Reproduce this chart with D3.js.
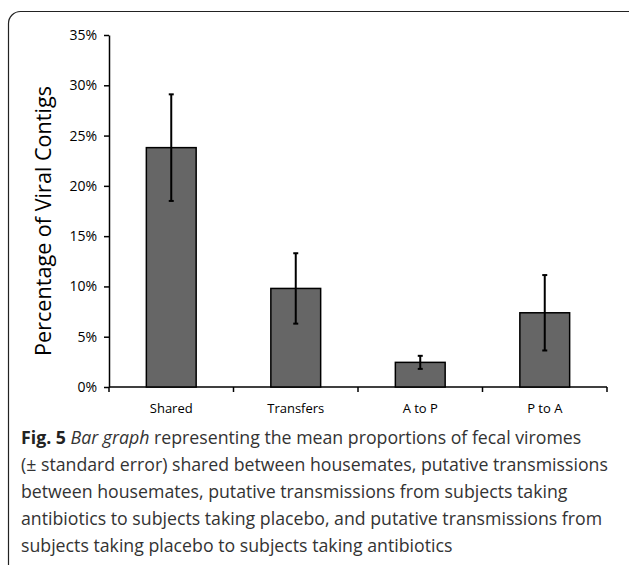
<!DOCTYPE html>
<html><head><meta charset="utf-8">
<script src="https://cdn.jsdelivr.net/npm/d3@7"></script>
<style>body{margin:0;background:#fff}svg{display:block}</style>
</head><body>
<svg id="c" width="629" height="565"></svg>
<script>
const categories = ["Shared", "Transfers", "A to P", "P to A"];
const means = [0.238, 0.098, 0.0245, 0.0738];
const errors = [0.053, 0.035, 0.0065, 0.0375];
const yTicks = [0, 0.05, 0.10, 0.15, 0.20, 0.25, 0.30, 0.35];
const yLabel = "Percentage of Viral Contigs";
const captionLines = [
  [["b","Fig. 5"],["n"," "],["i","Bar graph"],["n"," representing the mean proportions of fecal viromes"]],
  [["n","(± standard error) shared between housemates, putative transmissions"]],
  [["n","between housemates, putative transmissions from subjects taking"]],
  [["n","antibiotics to subjects taking placebo, and putative transmissions from"]],
  [["n","subjects taking placebo to subjects taking antibiotics"]]
];

const svg = d3.select("#c");
// frame
svg.append("rect").attr("x", 8.5).attr("y", 11.5).attr("width", 632).attr("height", 566)
  .attr("rx", 12).attr("fill", "none").attr("stroke", "#222").attr("stroke-width", 1.2);

const x = d3.scaleBand().domain(categories).range([109, 607]).paddingInner(0.6).paddingOuter(0.3);
const y = d3.scaleLinear().domain([0, 0.35]).range([387, 35]);

const font = "'Open Sans', 'DejaVu Sans', sans-serif";

// y axis
const ya = svg.append("g").attr("transform", "translate(109,0)")
  .call(d3.axisLeft(y).tickValues(yTicks).tickFormat(d3.format(".0%")).tickSize(5).tickSizeOuter(0));
ya.select(".domain").attr("stroke", "#000").attr("stroke-width", 1.5);
ya.selectAll(".tick line").attr("stroke", "#000").attr("stroke-width", 1.5);
ya.selectAll(".tick text").attr("font-family", font).attr("font-size", 14).attr("fill", "#000").attr("x", -12);

// x axis with boundary ticks
const xa = svg.append("g").attr("transform", "translate(0,387)");
xa.append("line").attr("x1", 109).attr("x2", 607).attr("stroke", "#000").attr("stroke-width", 1.5);
const step = x.step();
const bounds = categories.map((c, i) => 109 + i * step).concat([607]);
xa.selectAll("line.tk").data(bounds).join("line").attr("class", "tk")
  .attr("x1", d => d).attr("x2", d => d).attr("y1", 0).attr("y2", 5)
  .attr("stroke", "#000").attr("stroke-width", 1.5);
const catCenter = (c, i) => 109 + (i + 0.5) * step;
xa.selectAll("text").data(categories).join("text")
  .attr("x", catCenter).attr("y", 26).attr("text-anchor", "middle")
  .attr("font-family", font).attr("font-size", 13).attr("fill", "#000").text(d => d);

// bars
svg.selectAll("rect.bar").data(categories).join("rect").attr("class", "bar")
  .attr("x", (c, i) => catCenter(c, i) - x.bandwidth() / 2)
  .attr("width", x.bandwidth())
  .attr("y", (c, i) => y(means[i]))
  .attr("height", (c, i) => y(0) - y(means[i]))
  .attr("fill", "#666666").attr("stroke", "#000").attr("stroke-width", 1.5);

// error bars
const eb = svg.selectAll("g.err").data(categories).join("g").attr("class", "err");
eb.append("line")
  .attr("x1", (c, i) => catCenter(c, i)).attr("x2", (c, i) => catCenter(c, i))
  .attr("y1", (c, i) => y(means[i] + errors[i])).attr("y2", (c, i) => y(means[i] - errors[i]))
  .attr("stroke", "#000").attr("stroke-width", 2);
eb.append("line")
  .attr("x1", (c, i) => catCenter(c, i) - 2.5).attr("x2", (c, i) => catCenter(c, i) + 2.5)
  .attr("y1", (c, i) => y(means[i] + errors[i])).attr("y2", (c, i) => y(means[i] + errors[i]))
  .attr("stroke", "#000").attr("stroke-width", 2);
eb.append("line")
  .attr("x1", (c, i) => catCenter(c, i) - 2.5).attr("x2", (c, i) => catCenter(c, i) + 2.5)
  .attr("y1", (c, i) => y(means[i] - errors[i])).attr("y2", (c, i) => y(means[i] - errors[i]))
  .attr("stroke", "#000").attr("stroke-width", 2);

// y label
const yl = svg.append("text").attr("transform", "translate(51,221) rotate(-90)")
  .attr("text-anchor", "middle").attr("font-family", font).attr("font-size", 20).attr("fill", "#000")
  .text(yLabel);
const ylw = yl.node().getComputedTextLength();
yl.attr("font-size", 20 * 270 / ylw);

// caption
const cap = svg.append("g");
const baselines = [444, 471, 498, 525, 552];
captionLines.forEach((line, li) => {
  const t = cap.append("text").attr("x", 21).attr("y", baselines[li])
    .attr("font-family", font).attr("font-size", 18).attr("fill", "#333");
  line.forEach(([s, str]) => {
    const ts = t.append("tspan").text(str);
    if (s === "b") ts.attr("font-weight", "bold").attr("fill", "#222");
    if (s === "i") ts.attr("font-style", "italic");
  });
});
const l2 = cap.selectAll("text").nodes()[1];
const w2 = l2.getComputedTextLength();
cap.selectAll("text").attr("font-size", 18 * 587 / w2);
</script>
</body></html>
